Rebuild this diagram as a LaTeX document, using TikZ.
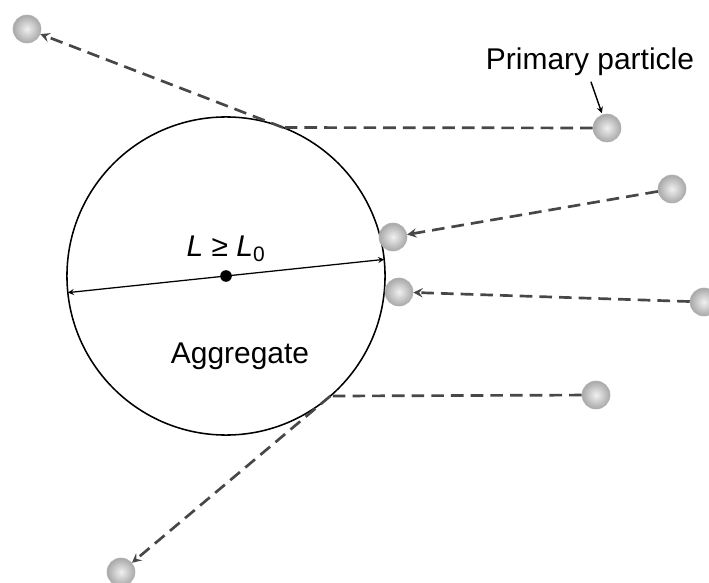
\documentclass[tikz,border=0pt]{standalone}
\usepackage{fontspec}
\setmainfont{Liberation Sans}
\tikzset{
    ag body/.style={circle, draw=black, line width=1.1pt, minimum size=7.95cm,
                    inner sep=0pt, outer sep=0pt},
    ag particle/.style={circle, minimum size=0.7cm, inner sep=0pt,
                        inner color=gray!12, outer color=gray!68,
                        draw=gray!60, line width=0.4pt},
    ag dot/.style={circle, fill=black, minimum size=0.29cm, inner sep=0pt},
    ag path/.style={draw=black!72, line width=1.9pt, >=stealth,
                    dash pattern=on 9pt off 5pt},
    ag dim/.style={<->, >=stealth, line width=0.9pt},
    ag pointer/.style={->, >=stealth, line width=1pt,
                       shorten <=2pt, shorten >=1pt},
    ag label/.style={font=\fontsize{21.3}{25}\selectfont, inner sep=2pt},
}

\begin{document}
\begin{tikzpicture}[x=0.025cm, y=-0.025cm]
    \useasboundingbox (0,0) rectangle (709,583);
    % Aggregate and its size
    \node[ag body] (agg) at (226,276) {};
    \draw[ag dim] (agg.186) -- (agg.6);
    \node[ag dot] (ctr) at (agg.center) {};
    \node[ag label] (len) at (226,249) {\textit{L} ≥ \textit{L}\textsubscript{0}};
    \node[ag label] (name) at (240,356) {Aggregate};
    % Contact points on the surface
    \coordinate (hitA) at (agg.69);
    \coordinate (hitB) at (agg.-49);
    % Primary particles
    \node[ag particle] (p1) at (27,29) {};
    \node[ag particle] (p2) at (607,128) {};
    \node[ag particle] (p3) at (672,189) {};
    \node[ag particle] (p4) at (393,237) {};
    \node[ag particle] (p5) at (399,292) {};
    \node[ag particle] (p6) at (704,302) {};
    \node[ag particle] (p7) at (596,395) {};
    \node[ag particle] (p8) at (121,572) {};
    % Bounced off the surface
    \draw[ag path] (p2) -- (hitA);
    \draw[ag path, ->] (hitA) -- (p1);
    \draw[ag path] (p7) -- (hitB);
    \draw[ag path, ->] (hitB) -- (p8);
    % Stuck to the surface
    \draw[ag path, ->] (p3) -- (p4);
    \draw[ag path, ->] (p6) -- (p5);
    % Label
    \node[ag label] (prim) at (590,62) {Primary particle};
    \draw[ag pointer] (prim.south) -- (p2);
\end{tikzpicture}
\end{document}
